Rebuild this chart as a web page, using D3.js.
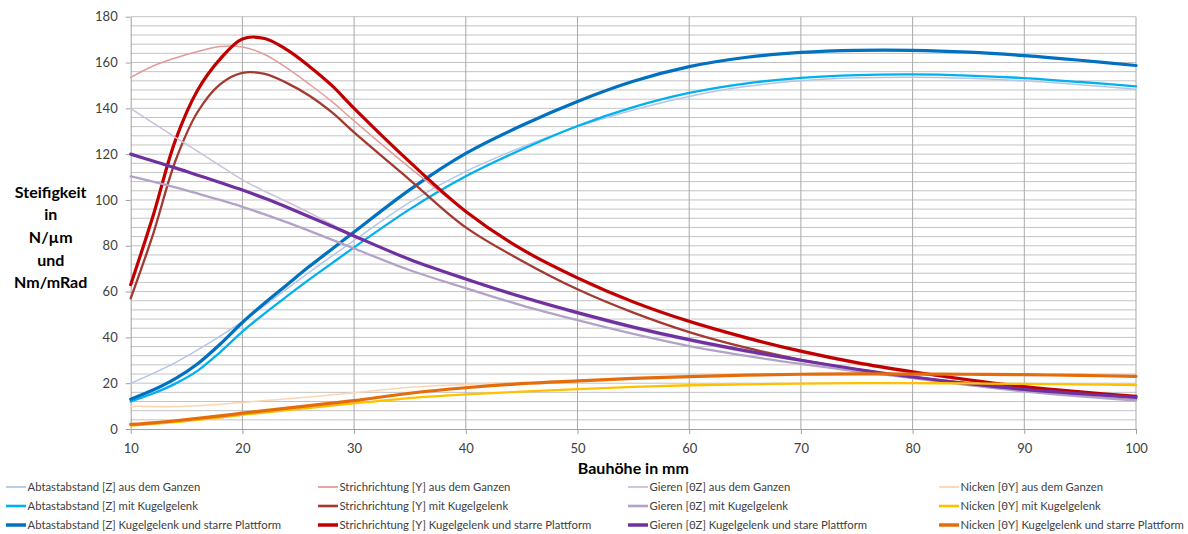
<!DOCTYPE html>
<html>
<head>
<meta charset="utf-8">
<script src="https://cdn.jsdelivr.net/npm/d3@7"></script>
<style>
  body { margin: 0; background: #fff; }
  svg text { font-family: Lato, "Open Sans", sans-serif; }
</style>
</head>
<body>
<svg id="chart" width="1188" height="534"></svg>
<script>
// Bauhöhe (mm) at which each stiffness curve is sampled
const heights = [10, 12, 14, 16, 18, 20, 22, 24, 26, 28, 30, 35, 40, 45, 50, 55, 60, 65, 70, 75, 80, 85, 90, 95, 100];

// Abtastabstand [Z]
const abtastGanzen   = [20, 24.3, 29, 34.5, 40.5, 47, 54, 61.3, 68.5, 75.5, 82.3, 99, 112.5, 123, 132, 139.3, 145.2, 149.5, 152, 153.3, 153.6, 153.1, 152, 150.3, 148.3];
const abtastKugel    = [12, 15.5, 19.8, 25.5, 33.5, 42.5, 50.5, 58, 65.3, 72.3, 79.3, 96, 110.3, 122, 132.3, 140.5, 146.7, 150.8, 153.3, 154.5, 154.8, 154.3, 153.2, 151.5, 149.6];
const abtastStarr    = [13, 17, 22, 28.5, 37, 46.5, 55, 63, 71, 78.5, 86, 104.5, 120.3, 132.5, 143, 151.8, 158.2, 162.2, 164.4, 165.3, 165.3, 164.5, 163, 161, 158.7];

// Strichrichtung [Y]
const strichGanzen   = [153.5, 158.5, 162, 164.8, 167, 166.8, 163.5, 157.5, 150.5, 143, 134.5, 114, 95, 78.5, 65.5, 55, 46.5, 39.5, 33.5, 28.5, 24.5, 21, 18, 15.8, 13.8];
const strichKugel    = [57, 85, 117, 138.5, 150.5, 155.5, 155, 151, 145.5, 138.3, 129.5, 108.7, 88, 73.5, 61, 50.8, 42.3, 35.6, 30.2, 26, 22.7, 19.9, 17.4, 15, 12.7];
const strichStarr    = [63, 93, 126, 148, 161.5, 170.3, 170.5, 165.5, 158.3, 150, 140, 116.5, 95, 78.5, 66, 55.5, 47, 40, 34, 29, 25, 21.5, 18.5, 16.2, 14.3];

// Gieren [θZ]
const gierenGanzen   = [140, 133.6, 127.3, 121.2, 115, 108.8, 103.8, 99.2, 94.4, 89.4, 84.3, 73.8, 65.2, 57.2, 50.2, 43.9, 38.4, 33.6, 29.6, 25.8, 22.5, 19.6, 17, 14.9, 13.1];
const gierenKugel    = [110.3, 108, 105.5, 102.8, 100, 97, 93.7, 90.2, 86.5, 82.7, 78.8, 69.3, 61.5, 54, 47.5, 41.5, 36.2, 32, 28.4, 25.2, 22.2, 19.2, 16.4, 14.2, 12.4];
const gierenStarr    = [120, 117, 114, 110.8, 107.6, 104.3, 100.7, 96.8, 92.7, 88.5, 84.3, 74, 65.5, 57.7, 50.8, 44.5, 39, 34.2, 30, 26.1, 22.7, 19.8, 17.3, 15.4, 13.8];

// Nicken [θY]
const nickenGanzen   = [10, 9.8, 9.8, 10.2, 10.8, 11.6, 12.4, 13.2, 14, 14.9, 15.8, 18.2, 19.5, 20.3, 21.1, 22.1, 22.9, 23.5, 23.9, 24.1, 24, 23.9, 23.7, 23.4, 23];
const nickenKugel    = [1.5, 2.2, 3, 4, 5, 6.2, 7.2, 8.2, 9.2, 10.2, 11.2, 13.5, 15.1, 16.3, 17.4, 18.4, 19.1, 19.5, 19.8, 20, 20, 19.9, 19.7, 19.5, 19.2];
const nickenStarr    = [2, 2.7, 3.6, 4.6, 5.7, 6.9, 8, 9.1, 10.2, 11.3, 12.4, 15.6, 18, 19.8, 21, 22.1, 22.9, 23.5, 23.9, 24.1, 24, 23.9, 23.7, 23.4, 23];

// Legend labels
const seriesLabels = [
  "Abtastabstand [Z] aus dem Ganzen", "Abtastabstand [Z] mit Kugelgelenk", "Abtastabstand [Z] Kugelgelenk und starre Plattform",
  "Strichrichtung [Y] aus dem Ganzen", "Strichrichtung [Y] mit Kugelgelenk", "Strichrichtung [Y] Kugelgelenk und starre Plattform",
  "Gieren [θZ] aus dem Ganzen", "Gieren [θZ] mit Kugelgelenk", "Gieren [θZ] Kugelgelenk und stare Plattform",
  "Nicken [θY] aus dem Ganzen", "Nicken [θY] mit Kugelgelenk", "Nicken [θY] Kugelgelenk und starre Plattform"
];
const seriesValues = [
  abtastGanzen, abtastKugel, abtastStarr,
  strichGanzen, strichKugel, strichStarr,
  gierenGanzen, gierenKugel, gierenStarr,
  nickenGanzen, nickenKugel, nickenStarr
];

// Axis tick values
const xTicks = [10, 20, 30, 40, 50, 60, 70, 80, 90, 100];
const yTicks = [0, 20, 40, 60, 80, 100, 120, 140, 160, 180];

// Line styling per series
const seriesColors = [
  "#b4c6e7", "#00b0f0", "#0070c0",
  "#e29c9a", "#a33a32", "#c00000",
  "#ccc0da", "#b3a2c7", "#7030a0",
  "#fcd5b4", "#ffc000", "#e46c0a"
];
const variantWidth = [1.5, 2.3, 3.2];

const svg = d3.select("#chart");
const W = 1188, H = 534;
svg.append("rect").attr("width", W).attr("height", H).attr("fill", "#fff");

const plot = { left: 130.7, right: 1136, top: 16.7, bottom: 429 };
const x = d3.scaleLinear().domain([10, 100]).range([plot.left, plot.right]);
const y = d3.scaleLinear().domain([0, 180]).range([plot.bottom, plot.top]);

// horizontal gridlines every 4 units
const grid = svg.append("g");
grid.selectAll("line.h")
  .data(d3.range(4, 181, 4))
  .join("line")
  .attr("x1", plot.left).attr("x2", plot.right)
  .attr("y1", d => y(d)).attr("y2", d => y(d))
  .attr("stroke", "#c3c3c3").attr("stroke-width", 1);

// vertical gridlines at every labelled height
grid.selectAll("line.v")
  .data(xTicks.slice(1))
  .join("line")
  .attr("x1", d => x(d)).attr("x2", d => x(d))
  .attr("y1", plot.top).attr("y2", plot.bottom)
  .attr("stroke", "#a9a9a9").attr("stroke-width", 1);

// axes
const yAxis = svg.append("g")
  .attr("transform", `translate(${plot.left},0)`)
  .call(d3.axisLeft(y).tickValues(yTicks).tickSize(5).tickSizeOuter(0).tickPadding(8));
const xAxis = svg.append("g")
  .attr("transform", `translate(0,${plot.bottom})`)
  .call(d3.axisBottom(x).tickValues(xTicks).tickSize(5).tickSizeOuter(0).tickPadding(10));
[yAxis, xAxis].forEach(g => {
  g.select(".domain").attr("stroke", "#a0a0a0");
  g.selectAll(".tick line").attr("stroke", "#a0a0a0");
  g.selectAll(".tick text")
    .attr("fill", "#404040")
    .style("font-family", "Lato, sans-serif")
    .style("font-size", "13px");
});

// curves
const line = d3.line()
  .x((d, i) => x(heights[i]))
  .y(d => y(d))
  .curve(d3.curveCatmullRom.alpha(0.5));

const curves = svg.append("g");
seriesValues.forEach((vals, i) => {
  curves.append("path")
    .datum(vals)
    .attr("d", line)
    .attr("fill", "none")
    .attr("stroke", seriesColors[i])
    .attr("stroke-width", variantWidth[i % 3])
    .attr("stroke-linejoin", "round")
    .attr("stroke-linecap", "round");
});

// y axis title
const yTitle = ["Steifigkeit", "in", "N/µm", "und", "Nm/mRad"];
svg.append("g").selectAll("text")
  .data(yTitle)
  .join("text")
  .attr("x", 50.7)
  .attr("y", (d, i) => 197.5 + i * 22.7)
  .attr("text-anchor", "middle")
  .attr("fill", "#000")
  .style("font-size", "16px")
  .style("font-weight", "bold")
  .text(d => d);

// x axis title
svg.append("text")
  .attr("x", (plot.left + plot.right) / 2)
  .attr("y", 474)
  .attr("text-anchor", "middle")
  .attr("fill", "#000")
  .style("font-size", "16px")
  .style("font-weight", "bold")
  .text("Bauhöhe in mm");

// legend: one column per direction, one row per variant
const legendCols = [6, 318, 628, 939];
const legendRows = [487, 506, 525];
const legend = svg.append("g");
seriesLabels.forEach((label, i) => {
  const cx = legendCols[Math.floor(i / 3)];
  const cy = legendRows[i % 3];
  const item = legend.append("g").attr("transform", `translate(${cx},${cy})`);
  item.append("line")
    .attr("x1", 0).attr("x2", 20)
    .attr("y1", 0).attr("y2", 0)
    .attr("stroke", seriesColors[i])
    .attr("stroke-width", variantWidth[i % 3] + 0.3);
  item.append("text")
    .attr("x", 21.5).attr("y", 0)
    .attr("dy", "0.35em")
    .attr("fill", "#404040")
    .style("font-size", "11.3px")
    .text(label);
});
</script>
</body>
</html>
